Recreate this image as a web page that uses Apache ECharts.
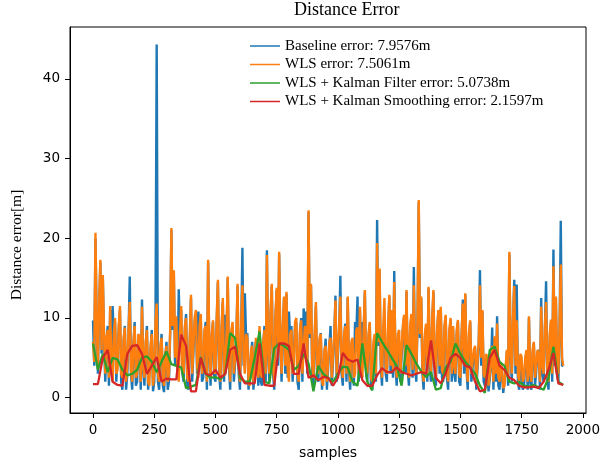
<!DOCTYPE html>
<html>
<head>
<meta charset="utf-8">
<script src="https://cdn.jsdelivr.net/npm/echarts@6/dist/echarts.min.js"></script>
<style>html,body{margin:0;padding:0;background:#fff}#c{width:603px;height:465px}</style>
</head>
<body>
<div id="c"></div>
<script>
// sample steps (x positions are sample indices)
const stepFine = 5;
const stepCoarse = 20;

const xTicks = [0, 250, 500, 750, 1000, 1250, 1500, 1750, 2000];
const yTicks = [0, 10, 20, 30, 40];

const legendNames = [
  'Baseline error: 7.9576m',
  'WLS error: 7.5061m',
  'WLS + Kalman Filter error: 5.0738m',
  'WLS + Kalman Smoothing error: 2.1597m'
];

// Baseline error, one value every 5 samples (each row = 100 samples)
const baselineErr = [
  9.7,4.0, 20.0,9.5, 3.0,11.5, 17.0,5.5, 15.0,7.5, 2.0,7.0, 9.0,1.5, 11.0,3.0, 11.5,7.5, 9.5,2.0,
  2.0,8.5, 11.0,2.0, 1.0,7.0, 9.0,1.0, 3.0,8.0, 15.2,3.0, 1.0,6.5, 9.5,1.5, 2.0,7.5, 7.0,1.0,
  12.3,3.5, 1.5,6.5, 9.0,1.0, 0.8,6.0, 8.5,0.8, 2.0,9.0, 44.3,2.0, 1.0,6.0, 8.0,1.5, 0.7,5.0,
  7.0,1.0, 2.0,8.0, 21.0,8.5, 15.5,4.0, 10.0,2.5, 13.6,7.5, 11.0,3.0, 2.0,8.5, 10.5,1.5, 1.0,7.0,
  12.5,2.0, 2.0,9.5, 10.5,3.0, 10.8,8.5, 10.0,2.0, 2.5,8.0, 9.5,1.0, 17.0,5.5, 1.5,7.5, 9.5,2.5,
  2.0,9.5, 14.5,3.0, 1.0,8.5, 12.0,2.0, 10.4,7.5, 15.0,4.0, 1.0,8.0, 9.0,2.0, 2.0,6.5, 14.0,3.0,
  1.0,8.5, 18.8,4.0, 13.1,7.5, 8.1,1.0, 0.8,5.5, 7.0,1.0, 1.0,7.0, 6.5,1.5, 8.5,2.0, 1.5,6.5,
  9.0,2.0, 18.5,5.5, 2.0,10.5, 14.0,3.0, 1.0,10.0, 13.5,4.0, 18.0,6.5, 2.0,8.5, 12.5,3.0, 13.0,2.5,
  10.8,7.5, 9.0,2.0, 2.0,9.0, 9.5,2.0, 1.0,8.0, 10.0,2.0, 11.2,8.5, 10.8,3.0, 23.3,7.5, 14.0,3.0,
  1.5,7.5, 11.5,2.5, 2.0,7.0, 8.1,1.0, 0.8,5.5, 7.4,1.0, 1.0,6.5, 9.0,1.5, 1.5,7.5, 12.8,2.0,
  2.0,8.5, 15.3,3.0, 1.5,7.5, 9.3,2.0, 12.5,3.5, 1.0,6.5, 7.0,1.5, 9.5,8.0, 12.7,2.0, 11.0,2.5,
  9.5,8.0, 13.3,3.0, 2.0,7.5, 9.3,1.5, 1.0,6.5, 7.0,2.0, 22.3,6.5, 16.0,4.0, 1.5,8.5, 8.9,3.0,
  2.0,8.5, 12.7,3.0, 11.0,2.5, 15.9,4.0, 1.5,7.5, 7.0,2.0, 2.0,8.5, 10.0,3.0, 13.3,3.5, 1.5,8.5,
  10.0,2.5, 16.4,4.0, 2.0,9.5, 24.5,7.5, 12.5,3.0, 1.0,7.5, 8.9,2.0, 13.7,4.0, 2.0,9.5, 13.3,3.0,
  1.5,8.0, 10.8,3.0, 11.2,2.5, 2.0,8.5, 10.2,2.5, 1.0,8.0, 9.8,2.0, 8.8,3.0, 2.0,8.0, 9.5,2.0,
  1.5,7.5, 12.3,3.0, 12.9,3.5, 1.0,7.5, 9.5,2.0, 2.0,5.5, 6.3,1.0, 1.0,6.5, 16.0,4.0, 10.8,2.0,
  1.5,5.0, 4.8,0.8, 0.6,4.0, 8.8,1.0, 7.5,2.0, 10.2,1.5, 1.0,4.0, 3.3,0.6, 0.8,3.5, 5.8,1.5,
  18.0,5.5, 2.0,9.5, 14.8,3.0, 14.2,2.0, 1.0,5.0, 5.0,1.0, 1.5,4.5, 5.8,1.0, 10.0,2.0, 1.0,5.5,
  6.8,1.5, 1.5,5.5, 6.0,1.0, 12.5,3.0, 2.0,8.5, 14.6,2.5, 1.0,7.5, 9.5,2.0, 18.6,4.0, 12.5,3.0,
  2.0,8.5, 22.2,4.0, 4.0
];

// WLS error, one value every 5 samples (each row = 100 samples)
const wlsErr = [
  7.0,4.5, 20.7,9.0, 4.0,12.0, 17.3,6.0, 15.4,8.0, 3.0,7.5, 8.5,2.5, 11.5,4.0, 2.0,8.0, 10.0,3.0,
  3.5,9.0, 11.5,3.0, 2.5,7.5, 8.8,2.0, 4.0,8.5, 12.0,3.5, 2.0,7.0, 9.0,2.5, 3.0,8.0, 7.5,2.0,
  11.4,4.0, 2.5,7.0, 8.5,2.0, 1.5,6.5, 8.0,1.5, 3.0,9.5, 11.8,3.0, 2.0,6.5, 7.5,2.5, 1.5,5.5,
  6.5,2.0, 3.0,8.5, 21.3,9.0, 16.0,5.0, 10.2,3.5, 2.0,8.0, 11.5,4.0, 3.0,9.0, 10.0,2.5, 2.0,7.5,
  12.9,3.0, 3.0,10.0, 11.0,4.0, 2.5,9.0, 10.5,3.0, 4.0,8.5, 9.0,2.0, 17.3,6.0, 2.5,8.0, 9.7,3.5,
  3.0,10.0, 14.8,4.0, 2.0,9.0, 12.5,3.0, 3.5,8.0, 15.2,5.0, 2.0,8.5, 9.5,3.0, 3.0,7.0, 14.3,4.0,
  2.0,9.0, 14.1,5.0, 3.0,8.0, 7.5,2.0, 1.5,6.0, 6.5,2.0, 2.0,7.5, 6.0,2.5, 9.0,3.0, 2.5,7.0,
  8.5,3.0, 17.9,6.0, 3.0,11.0, 14.3,4.0, 2.0,10.5, 13.8,5.0, 18.3,7.0, 3.0,9.0, 12.7,4.0, 13.3,3.5,
  2.0,8.0, 8.5,3.0, 3.5,9.5, 10.0,3.0, 2.0,8.5, 9.7,3.0, 3.0,9.0, 8.5,4.0, 23.5,8.0, 14.3,4.0,
  2.5,8.0, 12.0,3.5, 3.0,7.5, 8.0,2.0, 1.5,6.0, 6.5,2.0, 2.0,7.0, 7.5,2.5, 2.5,8.0, 12.2,3.0,
  3.0,9.0, 12.7,4.0, 2.5,8.0, 9.0,3.0, 12.7,4.5, 2.0,7.0, 7.5,2.5, 3.0,8.5, 8.8,3.0, 11.4,3.5,
  2.5,8.5, 13.5,4.0, 3.0,8.0, 9.5,2.5, 2.0,7.0, 8.0,3.0, 19.4,7.0, 16.2,5.0, 2.5,9.0, 12.5,4.0,
  3.0,9.0, 12.9,4.0, 11.0,3.5, 14.5,5.0, 2.5,8.0, 8.5,3.0, 3.0,9.0, 10.4,4.0, 13.5,4.5, 2.5,9.0,
  10.5,3.5, 14.1,5.0, 3.0,10.0, 24.8,8.0, 12.7,4.0, 2.0,8.0, 9.3,3.0, 13.9,5.0, 3.0,10.0, 13.5,4.0,
  2.5,8.5, 11.0,4.0, 11.4,3.5, 3.0,9.0, 10.4,3.5, 2.0,8.5, 10.0,3.0, 9.0,4.0, 3.0,8.5, 9.75,3.0,
  2.5,8.0, 11.8,4.0, 13.1,4.5, 2.0,8.0, 9.7,3.0, 3.0,6.0, 6.5,2.0, 2.0,7.0, 14.1,5.0, 11.0,3.0,
  2.5,5.5, 5.0,1.5, 1.5,4.5, 6.5,2.0, 7.7,3.0, 9.3,2.5, 2.0,4.5, 3.5,1.2, 1.5,4.0, 6.0,2.5,
  18.3,6.0, 3.0,10.0, 14.0,4.0, 9.7,3.0, 2.0,5.5, 5.1,2.0, 2.5,5.0, 6.0,2.0, 10.2,3.0, 2.0,6.0,
  7.0,2.5, 2.5,6.0, 5.0,2.0, 11.4,4.0, 3.0,9.0, 12.0,3.5, 2.0,8.0, 9.8,3.0, 16.5,5.0, 12.7,4.0,
  3.0,9.0, 16.7,5.0, 4.0
];

// WLS + Kalman filter error, one value every 20 samples
const kfErr = [
  6.8, 3.5, 5.5, 3.2, 5.0, 4.8, 3.5, 2.8, 3.0, 3.5,
  5.0, 5.2, 4.5, 3.2, 4.5, 5.8, 4.2, 4.0, 3.8, 1.2,
  1.4, 1.6, 5.1, 3.0, 2.5, 2.6, 2.3, 3.0, 8.1, 7.5,
  2.5, 2.0, 2.0, 5.0, 8.3, 2.0, 1.8, 6.2, 6.8, 6.5,
  6.0, 3.5, 4.0, 5.5, 4.3, 0.8, 4.0, 3.0, 2.5, 2.0,
  3.0, 3.9, 3.8, 2.0, 1.5, 6.8, 2.0, 0.9, 8.1, 7.0,
  6.0, 5.0, 4.0, 1.5, 6.6, 5.5, 4.3, 3.3, 2.6, 3.2,
  1.0, 1.2, 3.8, 4.5, 6.8, 5.5, 4.5, 3.8, 3.0, 1.5,
  0.6, 6.0, 6.4, 4.5, 4.0, 2.0, 1.8, 2.0, 1.5, 1.4,
  1.6, 1.3, 1.0, 2.5, 6.4, 2.0, 1.6
];

// WLS + Kalman smoothing error, one value every 20 samples
const ksErr = [
  1.7, 1.7, 5.0, 6.0, 2.0, 1.6, 1.5, 5.5, 6.5, 6.6,
  5.5, 3.0, 4.0, 5.1, 2.0, 2.4, 2.3, 2.3, 7.9, 6.5,
  0.8, 0.8, 5.0, 3.0, 2.8, 3.5, 2.5, 3.0, 6.0, 6.4,
  3.0, 1.8, 1.8, 1.8, 6.8, 1.6, 1.5, 1.5, 6.8, 6.8,
  6.5, 3.0, 3.0, 6.8, 2.5, 2.8, 2.2, 2.6, 2.5, 1.5,
  2.5, 5.6, 4.8, 4.5, 4.8, 2.2, 1.5, 1.5, 2.8, 3.7,
  3.2, 3.2, 3.8, 3.2, 3.0, 2.8, 3.0, 3.2, 3.0, 7.2,
  2.5, 1.8, 3.0, 5.0, 5.5, 5.0, 4.0, 3.8, 2.0, 0.8,
  1.0, 5.0, 6.0, 4.0, 3.5, 2.5, 2.2, 1.5, 1.3, 1.3,
  1.4, 1.2, 2.0, 3.5, 5.6, 1.8, 1.6
];

const colors = ['#1f77b4', '#ff7f0e', '#2ca02c', '#d62728'];
const widths = [2.4, 2.4, 2.3, 2.3];

function pairs(vals, step) {
  return vals.map(function (v, i) { return [i * step, v]; });
}

const chart = echarts.init(document.getElementById('c'), null, { renderer: 'canvas' });
const seriesVals = [baselineErr, wlsErr, kfErr, ksErr];
const seriesSteps = [stepFine, stepFine, stepCoarse, stepCoarse];

chart.setOption({
  animation: false,
  backgroundColor: '#fff',
  title: {
    text: 'Distance Error',
    left: 294,
    top: 1,
    padding: 0,
    textStyle: { fontFamily: 'Liberation Serif', fontSize: 18, fontWeight: 'normal', color: '#000' }
  },
  legend: {
    orient: 'vertical',
    left: 250,
    top: 37,
    padding: 0,
    itemGap: 0.5,
    itemWidth: 30,
    itemHeight: 1.5,
    icon: 'rect',
    textStyle: { fontFamily: 'Liberation Serif', fontSize: 15, color: '#000', lineHeight: 18 },
    data: legendNames
  },
  grid: {
    left: 70, right: 13, top: 27, bottom: 52,
    show: true, borderColor: '#000', borderWidth: 1, backgroundColor: 'transparent'
  },
  graphic: [{
    type: 'text',
    x: 17,
    y: 245,
    rotation: Math.PI / 2,
    style: {
      text: 'Distance error[m]',
      font: '15.5px "Liberation Serif"',
      fill: '#000',
      textAlign: 'center',
      textVerticalAlign: 'middle'
    }
  }],
  xAxis: {
    type: 'value',
    min: -94,
    max: 2013,
    name: 'samples',
    nameLocation: 'middle',
    nameGap: 33,
    nameTextStyle: { fontFamily: 'DejaVu Sans', fontSize: 14, color: '#000' },
    axisLine: { show: true, onZero: false, lineStyle: { color: '#000', width: 1 } },
    axisTick: { show: true, length: 5, customValues: xTicks, lineStyle: { color: '#000' } },
    axisLabel: {
      customValues: xTicks, fontFamily: 'DejaVu Sans', fontSize: 13.5, color: '#000', margin: 10,
      formatter: function (v) { return String(v); }
    },
    splitLine: { show: false }
  },
  yAxis: {
    type: 'value',
    min: -1.92,
    max: 46.5,
    axisLine: { show: true, onZero: false, lineStyle: { color: '#000', width: 1 } },
    axisTick: { show: true, length: 5, customValues: yTicks, lineStyle: { color: '#000' } },
    axisLabel: {
      customValues: yTicks, fontFamily: 'DejaVu Sans', fontSize: 13.5, color: '#000', margin: 10,
      formatter: function (v) { return String(v); }
    },
    splitLine: { show: false }
  },
  series: seriesVals.map(function (vals, k) {
    return {
      name: legendNames[k],
      type: 'line',
      data: pairs(vals, seriesSteps[k]),
      showSymbol: false,
      symbol: 'none',
      sampling: null,
      color: colors[k],
      lineStyle: { color: colors[k], width: widths[k] },
      emphasis: { disabled: true }
    };
  })
});
</script>
</body>
</html>
